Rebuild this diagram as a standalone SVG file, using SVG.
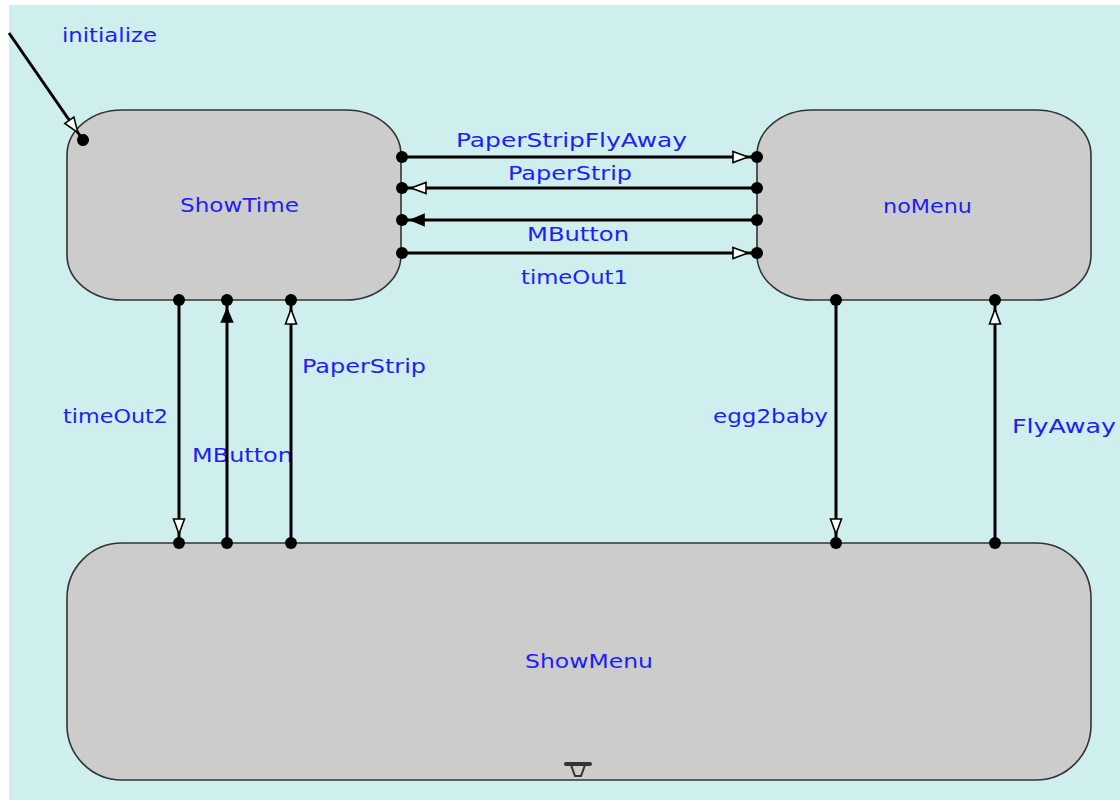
<svg xmlns="http://www.w3.org/2000/svg" width="1120" height="800" viewBox="0 0 1120 800">
  <defs>
    <style>
      .state { fill: #cccccc; stroke: #333333; stroke-width: 1.6; }
      .lbl { font-family: "DejaVu Sans", "Liberation Sans", sans-serif; font-size: 19px; fill: #1e1ef8; }
      .conn { fill: none; stroke: #000000; stroke-width: 3; }
    </style>
    <marker id="dot" markerUnits="userSpaceOnUse" viewBox="-7 -7 14 14" refX="0" refY="0" markerWidth="14" markerHeight="14" orient="auto">
      <circle r="6" fill="#000"/>
    </marker>
    <marker id="openEnd" markerUnits="userSpaceOnUse" viewBox="-28 -9 36 18" refX="0" refY="0" markerWidth="36" markerHeight="18" orient="auto">
      <path d="M-24,-5.5 L-9,0 L-24,5.5 Z" fill="#ffffff" stroke="#000" stroke-width="1.6"/>
      <circle r="6" fill="#000"/>
    </marker>
    <marker id="filledEnd" markerUnits="userSpaceOnUse" viewBox="-28 -9 36 18" refX="0" refY="0" markerWidth="36" markerHeight="18" orient="auto">
      <path d="M-22,-5.5 L-9,0 L-22,5.5 Z" fill="#000" stroke="#000" stroke-width="1.6"/>
      <circle r="6" fill="#000"/>
    </marker>
  </defs>

  <rect x="0" y="0" width="1120" height="800" fill="#ffffff"/>
  <rect x="9" y="5" width="1111" height="795" fill="#cfeeee"/>

  <g id="ShowTime">
    <rect class="state" x="67" y="110" width="334" height="190" rx="55" ry="45"/>
    <text class="lbl" x="180" y="212" textLength="119" lengthAdjust="spacingAndGlyphs">ShowTime</text>
  </g>
  <g id="noMenu">
    <rect class="state" x="757" y="110" width="334" height="190" rx="55" ry="45"/>
    <text class="lbl" x="883" y="213" textLength="89" lengthAdjust="spacingAndGlyphs">noMenu</text>
  </g>
  <g id="ShowMenu">
    <rect class="state" x="67" y="543" width="1024" height="237" rx="55" ry="55"/>
    <text class="lbl" x="525" y="668" textLength="128" lengthAdjust="spacingAndGlyphs">ShowMenu</text>
    <path d="M566,764 H590" stroke="#333" stroke-width="4" stroke-linecap="round" fill="none"/>
    <path d="M571,765 L585,765 L581,776 L575,776 Z" stroke="#333" stroke-width="2" fill="none"/>
  </g>

  <g id="labels">
    <text class="lbl" x="62" y="42" textLength="95" lengthAdjust="spacingAndGlyphs">initialize</text>
    <text class="lbl" x="456" y="147" textLength="231" lengthAdjust="spacingAndGlyphs">PaperStripFlyAway</text>
    <text class="lbl" x="508" y="180" textLength="124" lengthAdjust="spacingAndGlyphs">PaperStrip</text>
    <text class="lbl" x="527" y="241" textLength="102" lengthAdjust="spacingAndGlyphs">MButton</text>
    <text class="lbl" x="521" y="284" textLength="107" lengthAdjust="spacingAndGlyphs">timeOut1</text>
    <text class="lbl" x="63" y="423" textLength="105" lengthAdjust="spacingAndGlyphs">timeOut2</text>
    <text class="lbl" x="192" y="462" textLength="101" lengthAdjust="spacingAndGlyphs">MButton</text>
    <text class="lbl" x="302" y="373" textLength="124" lengthAdjust="spacingAndGlyphs">PaperStrip</text>
    <text class="lbl" x="713" y="423" textLength="115" lengthAdjust="spacingAndGlyphs">egg2baby</text>
    <text class="lbl" x="1012" y="433" textLength="104" lengthAdjust="spacingAndGlyphs">FlyAway</text>
  </g>

  <g id="connectors">
    <path class="conn" d="M9,33 L83,140" marker-end="url(#openEnd)"/>
    <path class="conn" d="M402,157 H757" marker-start="url(#dot)" marker-end="url(#openEnd)"/>
    <path class="conn" d="M757,188 H402" marker-start="url(#dot)" marker-end="url(#openEnd)"/>
    <path class="conn" d="M757,220 H402" marker-start="url(#dot)" marker-end="url(#filledEnd)"/>
    <path class="conn" d="M402,253 H757" marker-start="url(#dot)" marker-end="url(#openEnd)"/>
    <path class="conn" d="M179,300 V543" marker-start="url(#dot)" marker-end="url(#openEnd)"/>
    <path class="conn" d="M227,543 V300" marker-start="url(#dot)" marker-end="url(#filledEnd)"/>
    <path class="conn" d="M291,543 V300" marker-start="url(#dot)" marker-end="url(#openEnd)"/>
    <path class="conn" d="M836,300 V543" marker-start="url(#dot)" marker-end="url(#openEnd)"/>
    <path class="conn" d="M995,543 V300" marker-start="url(#dot)" marker-end="url(#openEnd)"/>
  </g>
</svg>
